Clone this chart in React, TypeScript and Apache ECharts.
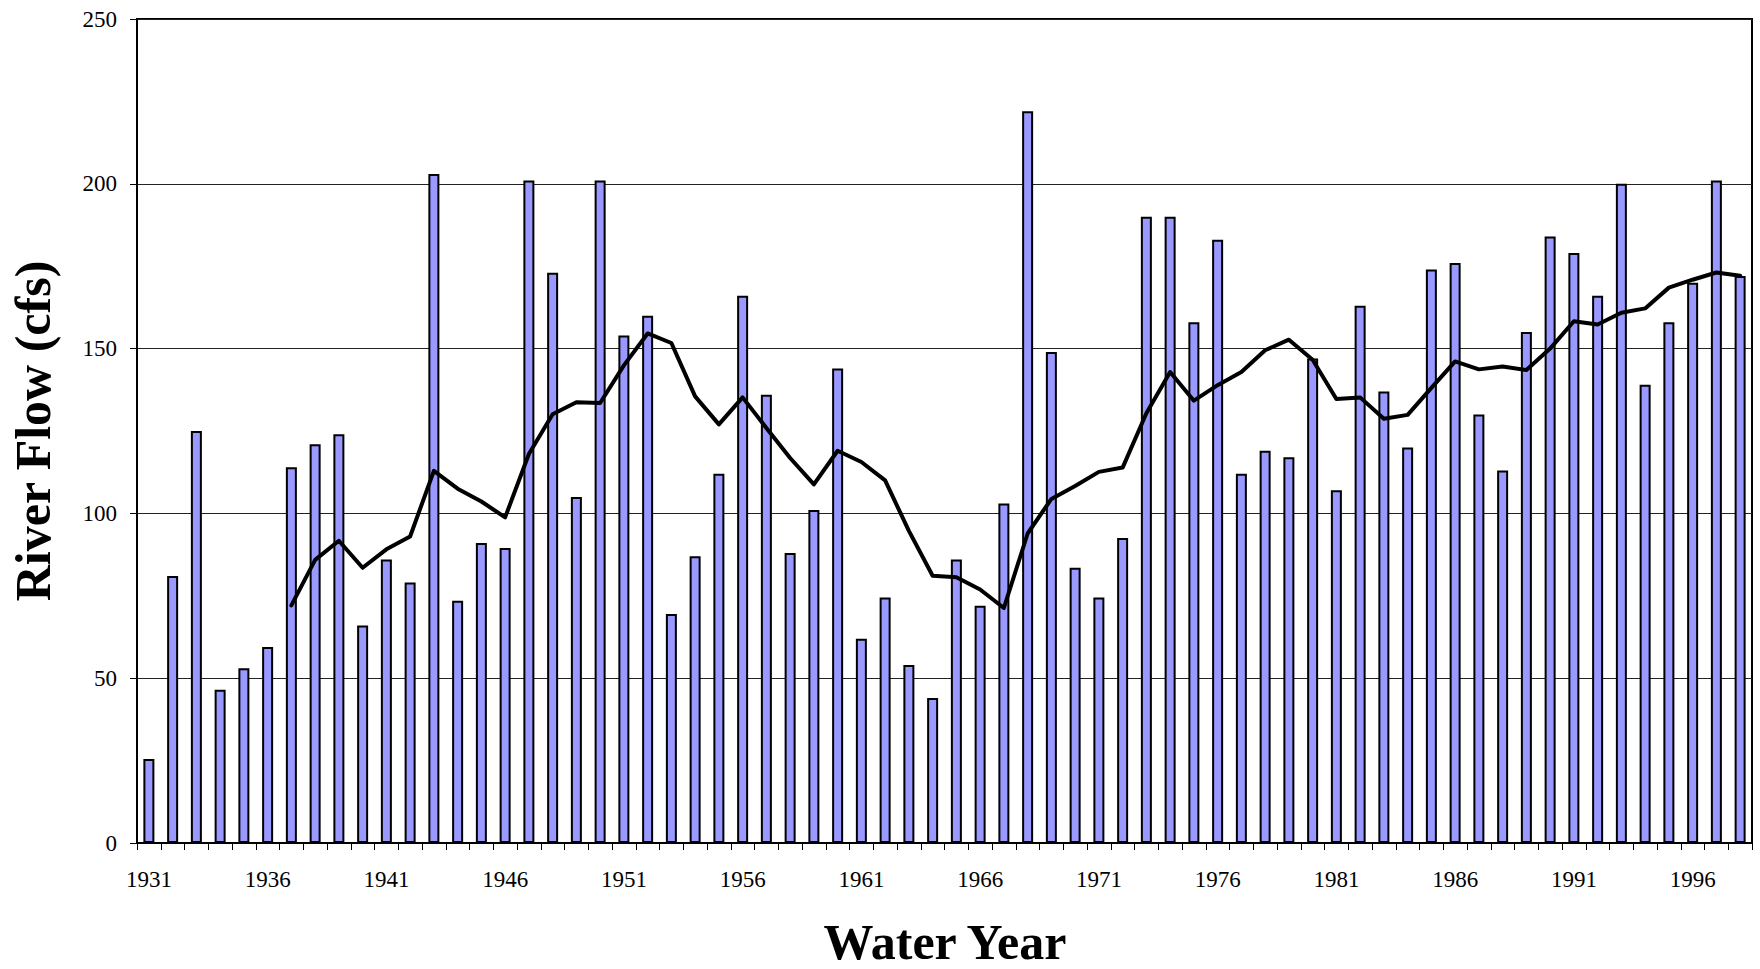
import React, { useEffect, useRef } from "react";
import * as echarts from "echarts";

const years: string[] = [
  "1931", "1932", "1933", "1934", "1935", "1936", "1937", "1938", "1939", "1940",
  "1941", "1942", "1943", "1944", "1945", "1946", "1947", "1948", "1949", "1950",
  "1951", "1952", "1953", "1954", "1955", "1956", "1957", "1958", "1959", "1960",
  "1961", "1962", "1963", "1964", "1965", "1966", "1967", "1968", "1969", "1970",
  "1971", "1972", "1973", "1974", "1975", "1976", "1977", "1978", "1979", "1980",
  "1981", "1982", "1983", "1984", "1985", "1986", "1987", "1988", "1989", "1990",
  "1991", "1992", "1993", "1994", "1995", "1996", "1997", "1998",
];

const annualFlow: number[] = [
  25.5, 81, 125, 46.5, 53, 59.5, 114, 121, 124, 66,
  86, 79, 203, 73.5, 91, 89.5, 201, 173, 105, 201,
  154, 160, 69.5, 87, 112, 166, 136, 88, 101, 144,
  62, 74.5, 54, 44, 86, 72, 103, 222, 149, 83.5,
  74.5, 92.5, 190, 190, 158, 183, 112, 119, 117, 147,
  107, 163, 137, 120, 174, 176, 130, 113, 155, 184,
  179, 166, 200, 139, 158, 170, 201, 172,
];

const movingAverage: (number | null)[] = [
  null, null, null, null, null, null, 72.1, 85.9, 91.7, 83.5,
  89.1, 93.0, 112.9, 107.5, 103.6, 98.8, 118.0, 130.1, 133.7, 133.5,
  144.9, 154.6, 151.7, 135.5, 127.0, 135.2, 125.9, 116.8, 108.8, 119.0,
  115.6, 110.0, 94.7, 81.1, 80.6, 76.9, 71.3, 93.9, 104.4, 108.3,
  112.6, 113.9, 130.4, 142.9, 134.2, 138.9, 142.9, 149.5, 152.7, 146.6,
  134.7, 135.2, 128.7, 129.9, 138.1, 146.1, 143.7, 144.6, 143.5, 150.0,
  158.3, 157.3, 160.9, 162.2, 168.5, 170.9, 173.1, 172.1,
];

const FONT = "'Liberation Serif', 'Times New Roman', serif";

export default function App() {
  const ref = useRef<HTMLDivElement>(null);

  useEffect(() => {
    if (!ref.current) return;
    const chart = echarts.init(ref.current, undefined, { renderer: "svg" });
    chart.setOption({
      animation: false,
      backgroundColor: "#ffffff",
      grid: {
        left: 137,
        right: 8,
        top: 19,
        bottom: 126,
        show: true,
        borderColor: "#000",
        borderWidth: 2,
        containLabel: false,
      },
      xAxis: {
        type: "category",
        data: years,
        boundaryGap: true,
        axisLine: { show: true, lineStyle: { color: "#000", width: 2 } },
        axisTick: {
          show: true,
          interval: 0,
          alignWithLabel: false,
          length: 7,
          lineStyle: { color: "#000", width: 1 },
        },
        axisLabel: {
          interval: 4,
          margin: 25,
          color: "#000",
          fontFamily: FONT,
          fontSize: 23,
        },
        splitLine: { show: false },
      },
      yAxis: {
        type: "value",
        min: 0,
        max: 250,
        interval: 50,
        axisLine: { show: true, lineStyle: { color: "#000", width: 2 } },
        axisTick: { show: true, length: 7, lineStyle: { color: "#000", width: 1 } },
        axisLabel: {
          margin: 20,
          color: "#000",
          fontFamily: FONT,
          fontSize: 23,
        },
        splitLine: { show: true, lineStyle: { color: "#222", width: 1 } },
      },
      graphic: [
        {
          type: "text",
          x: 33,
          y: 431,
          rotation: Math.PI / 2,
          style: {
            text: "River Flow (cfs)",
            fontFamily: FONT,
            fontWeight: "bold",
            fontSize: 50,
            fill: "#000",
            textAlign: "center",
            textVerticalAlign: "middle",
          },
        },
        {
          type: "text",
          x: 945,
          y: 942,
          style: {
            text: "Water Year",
            fontFamily: FONT,
            fontWeight: "bold",
            fontSize: 50,
            fill: "#000",
            textAlign: "center",
            textVerticalAlign: "middle",
          },
        },
      ],
      series: [
        {
          name: "Annual Flow",
          type: "bar",
          data: annualFlow,
          barWidth: 11,
          itemStyle: { color: "#9999FF", borderColor: "#000", borderWidth: 2 },
        },
        {
          name: "7-Year Moving Average",
          type: "line",
          data: movingAverage,
          showSymbol: false,
          symbol: "none",
          connectNulls: false,
          lineStyle: { color: "#000", width: 4, join: "round", cap: "round" },
          z: 5,
        },
      ],
    });
    return () => chart.dispose();
  }, []);

  return (
    <div
      ref={ref}
      style={{ position: "fixed", left: 0, top: 0, width: 1760, height: 969, background: "#fff" }}
    />
  );
}
